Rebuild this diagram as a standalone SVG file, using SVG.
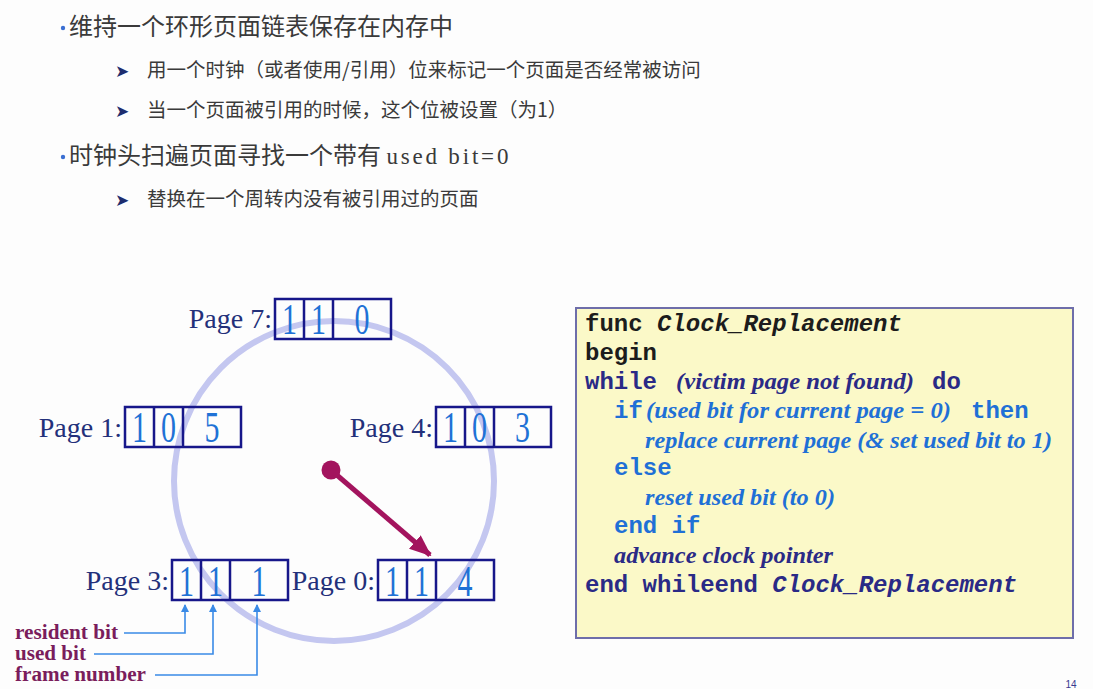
<svg xmlns="http://www.w3.org/2000/svg" width="1093" height="689" viewBox="0 0 1093 689">
<style>
.cjk{font-family:"Noto Sans CJK SC","Noto Sans",sans-serif;fill:#3a3a3a}
.h1{font-size:24px}
.h2{font-size:19.5px}
.bul{font-family:"DejaVu Sans",sans-serif;font-size:17px;fill:#1d2d6e}
.lbl{font-family:"Liberation Serif",serif;font-size:28px;fill:#23307a}
.dig{font-family:"Liberation Serif",serif;font-size:30px;fill:#1f72d6;text-anchor:middle}
.box{fill:none;stroke:#17178a;stroke-width:2.5}
.ann{font-family:"Liberation Serif",serif;font-weight:bold;font-size:20px;fill:#7a1d5c}
.aline{fill:none;stroke:#3a8ae6;stroke-width:1.6}
.mono{font-family:"Liberation Mono",monospace;font-weight:bold;font-size:24px}
.ser{font-family:"Liberation Serif",serif;font-weight:bold;font-style:italic;font-size:24px}
.k{fill:#1c1c1c}
.n{fill:#2a2a86}
.b{fill:#1f70d6}
</style>
<defs>
<marker id="ah" markerWidth="8" markerHeight="8" refX="7" refY="4" orient="auto" markerUnits="userSpaceOnUse">
<path d="M0,0 L8,4 L0,8 Z" fill="#3a8ae6"/>
</marker>
<marker id="hand" markerWidth="22" markerHeight="18" refX="20" refY="9" orient="auto" markerUnits="userSpaceOnUse">
<path d="M0,0 L22,9 L0,18 Z" fill="#a3145e"/>
</marker>
</defs>
<rect width="1093" height="689" fill="#fdfdfd"/>

<g id="bullets">
<circle cx="63" cy="28" r="2.2" fill="#3b6fd2"/>
<text class="cjk h1" x="69" y="35">维持一个环形页面链表保存在内存中</text>
<text class="bul" x="115" y="77">➤</text>
<text class="cjk h2" x="147" y="77">用一个时钟（或者使用/引用）位来标记一个页面是否经常被访问</text>
<text class="bul" x="115" y="117">➤</text>
<text class="cjk h2" x="147" y="117">当一个页面被引用的时候，这个位被设置（为1）</text>
<circle cx="63" cy="157" r="2.2" fill="#3b6fd2"/>
<text class="cjk h1" x="69" y="164">时钟头扫遍页面寻找一个带有 <tspan font-family="Liberation Serif,serif" font-size="23" textLength="122" lengthAdjust="spacing">used bit=0</tspan></text>
<text class="bul" x="115" y="206">➤</text>
<text class="cjk h2" x="147" y="206">替换在一个周转内没有被引用过的页面</text>
</g>

<circle id="ring" cx="334" cy="481" r="160" fill="none" stroke="#c4c7f0" stroke-width="6"/>

<g id="page7">
<text class="lbl" x="272" y="328" text-anchor="end">Page 7:</text>
<rect class="box" x="275" y="299" width="116" height="40"/>
<line class="box" x1="304" y1="299" x2="304" y2="339"/>
<line class="box" x1="333" y1="299" x2="333" y2="339"/>
<text class="dig" transform="translate(289.5,334) scale(1,1.5)">1</text>
<text class="dig" transform="translate(318.5,334) scale(1,1.5)">1</text>
<text class="dig" transform="translate(362,334) scale(1,1.5)">0</text>
</g>

<g id="page1">
<text class="lbl" x="122" y="437" text-anchor="end">Page 1:</text>
<rect class="box" x="125" y="407" width="116" height="40"/>
<line class="box" x1="154" y1="407" x2="154" y2="447"/>
<line class="box" x1="183" y1="407" x2="183" y2="447"/>
<text class="dig" transform="translate(139.5,442) scale(1,1.5)">1</text>
<text class="dig" transform="translate(168.5,442) scale(1,1.5)">0</text>
<text class="dig" transform="translate(212,442) scale(1,1.5)">5</text>
</g>

<g id="page4">
<text class="lbl" x="433" y="437" text-anchor="end">Page 4:</text>
<rect class="box" x="436" y="407" width="115" height="40"/>
<line class="box" x1="465" y1="407" x2="465" y2="447"/>
<line class="box" x1="494" y1="407" x2="494" y2="447"/>
<text class="dig" transform="translate(450.5,442) scale(1,1.5)">1</text>
<text class="dig" transform="translate(479.5,442) scale(1,1.5)">0</text>
<text class="dig" transform="translate(522.5,442) scale(1,1.5)">3</text>
</g>

<g id="page3">
<text class="lbl" x="169" y="590" text-anchor="end">Page 3:</text>
<rect class="box" x="172" y="560" width="116" height="40"/>
<line class="box" x1="201" y1="560" x2="201" y2="600"/>
<line class="box" x1="230" y1="560" x2="230" y2="600"/>
<text class="dig" transform="translate(186.5,596) scale(1,1.5)">1</text>
<text class="dig" transform="translate(215.5,596) scale(1,1.5)">1</text>
<text class="dig" transform="translate(259,596) scale(1,1.5)">1</text>
</g>

<g id="page0">
<text class="lbl" x="375" y="590" text-anchor="end">Page 0:</text>
<rect class="box" x="378" y="560" width="116" height="40"/>
<line class="box" x1="407" y1="560" x2="407" y2="600"/>
<line class="box" x1="436" y1="560" x2="436" y2="600"/>
<text class="dig" transform="translate(392.5,596) scale(1,1.5)">1</text>
<text class="dig" transform="translate(421.5,596) scale(1,1.5)">1</text>
<text class="dig" transform="translate(465,596) scale(1,1.5)">4</text>
</g>

<g id="clock-hand">
<circle cx="331" cy="470" r="9.5" fill="#a3145e"/>
<line x1="331" y1="470" x2="430" y2="555" stroke="#a3145e" stroke-width="5" marker-end="url(#hand)"/>
</g>

<g id="legend">
<text class="ann" x="15" y="639" textLength="103" lengthAdjust="spacingAndGlyphs">resident bit</text>
<text class="ann" x="15" y="660" textLength="71" lengthAdjust="spacingAndGlyphs">used bit</text>
<text class="ann" x="15" y="681" textLength="131" lengthAdjust="spacingAndGlyphs">frame number</text>
</g>

<g id="connectors">
<polyline class="aline" points="124,633 185,633 185,605" marker-end="url(#ah)"/>
<polyline class="aline" points="94,654 213,654 213,605" marker-end="url(#ah)"/>
<polyline class="aline" points="155,675 257,675 257,605" marker-end="url(#ah)"/>
</g>

<g id="code">
<rect x="576" y="308" width="497" height="330" fill="#fbf9c8" stroke="#6e6eaa" stroke-width="2"/>
<text class="mono k" x="585" y="331">func <tspan font-style="italic">Clock_Replacement</tspan></text>
<text class="mono k" x="585" y="360">begin</text>
<text class="mono n" x="585" y="389">while</text>
<text class="ser n" x="676" y="389" textLength="238" lengthAdjust="spacingAndGlyphs">(victim page not found)</text>
<text class="mono n" x="932" y="389">do</text>
<text class="mono b" x="614" y="418">if</text>
<text class="ser b" x="646" y="418" textLength="305" lengthAdjust="spacingAndGlyphs">(used bit for current page = 0)</text>
<text class="mono b" x="971" y="418">then</text>
<text class="ser b" x="645" y="448" textLength="407" lengthAdjust="spacingAndGlyphs">replace current page (&amp; set used bit to 1)</text>
<text class="mono b" x="614" y="475">else</text>
<text class="ser b" x="645" y="505" textLength="190" lengthAdjust="spacingAndGlyphs">reset used bit (to 0)</text>
<text class="mono b" x="614" y="533">end if</text>
<text class="ser n" x="614" y="563" textLength="219" lengthAdjust="spacingAndGlyphs">advance clock pointer</text>
<text class="mono n" x="585" y="592">end whileend <tspan font-style="italic">Clock_Replacement</tspan></text>
</g>

<text x="1071" y="688" font-family="Liberation Sans,sans-serif" font-size="10" fill="#3a3a90" text-anchor="middle">14</text>
</svg>
